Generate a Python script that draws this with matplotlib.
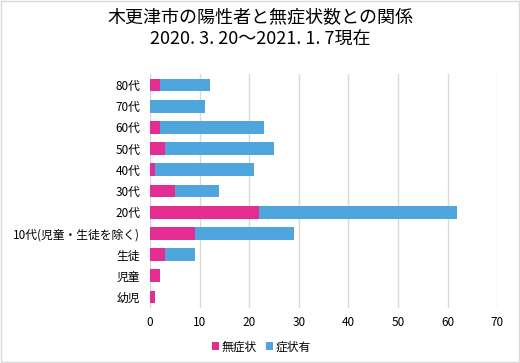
import matplotlib.pyplot as plt
from matplotlib.patches import Rectangle

plt.rcParams['font.family'] = ['Noto Sans CJK JP', 'DejaVu Sans']

# 年代別（上から下）
categories = ["80代", "70代", "60代", "50代", "40代", "30代", "20代",
              "10代(児童・生徒を除く)", "生徒", "児童", "幼児"]
asymptomatic = [2, 0, 2, 3, 1, 5, 22, 9, 3, 2, 1]      # 無症状
symptomatic = [10, 11, 21, 22, 20, 9, 40, 20, 6, 0, 0]  # 症状有
xticks = [0, 10, 20, 30, 40, 50, 60, 70]

pink = "#E32D91"
blue = "#4EA6DC"

fig = plt.figure(figsize=(5.2, 3.63), dpi=100)
ax = fig.add_axes([0.2885, 0.1526, 0.6675, 0.6424])

y = list(range(len(categories)))
ax.barh(y, asymptomatic, height=0.6, color=pink, label="無症状", zorder=3)
ax.barh(y, symptomatic, left=asymptomatic, height=0.6, color=blue,
        label="症状有", zorder=3)

ax.set_yticks(y)
ax.set_yticklabels(categories, fontsize=8.5)
ax.set_ylim(len(categories) - 0.5, -0.5)
ax.set_xlim(0, 70)
ax.set_xticks(xticks)
ax.tick_params(axis='x', labelsize=8.5, length=0, pad=6)
ax.tick_params(axis='y', length=0, pad=7)
ax.grid(axis='x', color="#D9D9D9", linewidth=1, zorder=0)
for s in ax.spines.values():
    s.set_visible(False)

fig.suptitle("木更津市の陽性者と無症状数との関係\n2020. 3. 20～2021. 1. 7現在",
             fontsize=13, y=0.975, linespacing=1.25)

ax.legend(loc='upper center', bbox_to_anchor=(0.32, -0.095), ncol=2,
          frameon=False, fontsize=8.5, handlelength=0.6, handleheight=0.6,
          handletextpad=0.2, columnspacing=0.8)

fig.patches.append(Rectangle((0.002, 0.003), 0.996, 0.994, transform=fig.transFigure,
                             fill=False, edgecolor="#D9D9D9", linewidth=1))

fig.savefig("out.png", dpi=100)
